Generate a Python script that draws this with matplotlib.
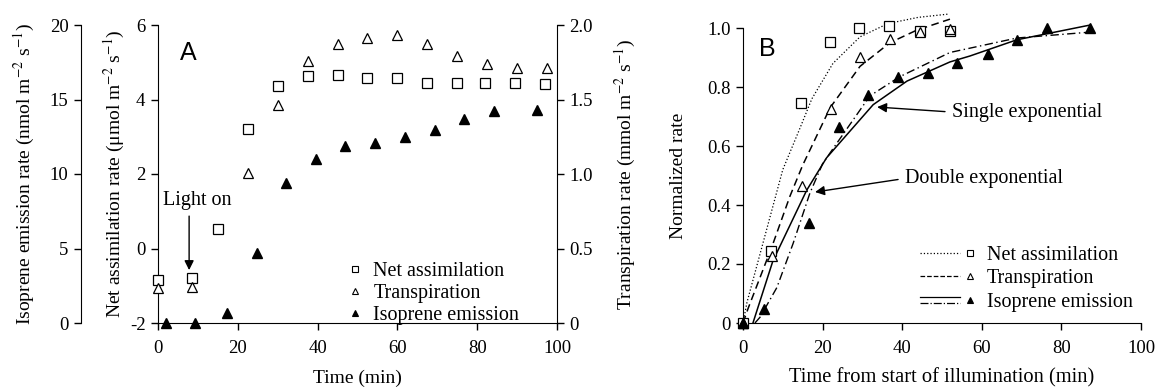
import matplotlib
matplotlib.use("Agg")
import matplotlib.pyplot as plt
from matplotlib.lines import Line2D
from matplotlib.legend_handler import HandlerBase

plt.rcParams["font.family"] = ["Liberation Serif", "DejaVu Serif"]
plt.rcParams["mathtext.fontset"] = "stix"
plt.rcParams["axes.unicode_minus"] = False
plt.rcParams["font.size"] = 13

# ---- panel A: raw time courses ----
net_time = [0, 8.5, 15, 22.5, 30, 37.5, 45, 52.5, 60, 67.5, 75, 82, 89.5, 97]
net_assim = [-0.85, -0.8, 0.52, 3.2, 4.35, 4.63, 4.65, 4.58, 4.57, 4.45, 4.45, 4.45, 4.45, 4.42]

trans_time = [0, 8.5, 22.5, 30, 37.5, 45, 52.5, 60, 67.5, 75, 82.5, 90, 97.5]
transp = [0.235, 0.24, 1.01, 1.46, 1.76, 1.87, 1.91, 1.93, 1.87, 1.79, 1.74, 1.71, 1.71]

iso_time = [2, 9.3, 17.3, 24.8, 32, 39.6, 46.9, 54.4, 61.9, 69.4, 76.7, 84.2, 95]
iso = [0, 0, 0.67, 4.7, 9.4, 11.0, 11.9, 12.1, 12.5, 12.95, 13.7, 14.2, 14.3]

# ---- panel B: normalized rates and fits ----
b_net_t = [0, 7.0, 14.6, 21.9, 29.1, 36.7, 44.5, 52]
b_net = [0, 0.244, 0.745, 0.952, 1.0, 1.007, 0.99, 0.99]
b_tr_t = [0, 7.3, 14.8, 22.1, 29.4, 36.9, 44.5, 52]
b_tr = [0, 0.227, 0.464, 0.725, 0.902, 0.963, 0.986, 0.997]
b_iso_t = [0, 5.3, 16.6, 24.1, 31.4, 38.9, 46.5, 53.8, 61.6, 68.8, 76.4, 87.2]
b_iso = [0, 0.047, 0.339, 0.665, 0.773, 0.834, 0.847, 0.881, 0.911, 0.959, 1.0, 1.0]

fit_net_t = [0, 1, 5, 10, 14.3, 17.3, 22.6, 29.4, 36.4, 44, 51.5]
fit_net = [0, 0.07, 0.27, 0.52, 0.66, 0.76, 0.88, 0.97, 1.015, 1.036, 1.047]
fit_tr_t = [0, 1.3, 7.3, 11.8, 15, 21.9, 29.4, 36.9, 43.7, 52]
fit_tr = [0, 0.05, 0.26, 0.43, 0.535, 0.73, 0.87, 0.95, 0.993, 1.03]
fit_single_t = [2.5, 7.5, 16, 21, 32.7, 41.2, 52, 57, 68.8, 87.2]
fit_single = [0, 0.21, 0.45, 0.56, 0.74, 0.82, 0.885, 0.905, 0.96, 1.01]
fit_double_t = [3, 4.3, 8.5, 12.6, 16.8, 20, 23.6, 31.9, 39.4, 52, 68.8, 87.2]
fit_double = [0, 0.02, 0.12, 0.27, 0.44, 0.54, 0.61, 0.77, 0.835, 0.917, 0.966, 0.986]

TXT = 14.5    # legend / annotation text
TICK = 13.5
LAB = 14


class Key:
    def __init__(self, styles, marker, filled):
        self.styles = styles
        self.marker = marker
        self.filled = filled


class KeyHandler(HandlerBase):
    def create_artists(self, legend, key, xdescent, ydescent, width, height, fontsize, trans):
        out = []
        y0 = height / 2 - ydescent
        offs = [0] if len(key.styles) == 1 else [height * 0.22, -height * 0.22]
        for ls, off in zip(key.styles, offs):
            ln = Line2D([-xdescent, -xdescent + width * 0.7], [y0 + off] * 2,
                        ls=ls, color="k", lw=0.9)
            ln.set_transform(trans)
            out.append(ln)
        mx = -xdescent + (width * 0.88 if key.styles else width / 2)
        mk = Line2D([mx], [y0], marker=key.marker, ms=5, ls="none", mec="k",
                    mew=0.8, mfc="k" if key.filled else "white")
        mk.set_transform(trans)
        out.append(mk)
        return out


def style_ticks(a):
    a.tick_params(direction="out", length=5, width=1, labelsize=TICK)
    a.tick_params(axis="x", pad=7)
    a.tick_params(axis="y", pad=4)


fig = plt.figure(figsize=(11.58, 3.88), dpi=100)

# ---------- panel A ----------
ax = fig.add_axes([158 / 1158, 65 / 388, 399 / 1158, 298 / 388])
ax_tr = ax.twinx()
ax_iso = ax.twinx()

ax.set_xlim(0, 100)
ax.set_ylim(-2, 6)
ax.set_yticks([-2, 0, 2, 4, 6])
ax.set_xticks([0, 20, 40, 60, 80, 100])
ax_tr.set_ylim(0, 2)
ax_tr.set_yticks([0, 0.5, 1.0, 1.5, 2.0])
ax_tr.set_yticklabels(["0", "0.5", "1.0", "1.5", "2.0"])
ax_iso.set_ylim(0, 20)
ax_iso.set_yticks([0, 5, 10, 15, 20])

for s in ["top", "right"]:
    ax.spines[s].set_visible(False)
for s in ["top", "left", "bottom"]:
    ax_tr.spines[s].set_visible(False)
for s in ["top", "right", "bottom"]:
    ax_iso.spines[s].set_visible(False)
ax_iso.spines["left"].set_visible(True)
ax_iso.spines["left"].set_position(("outward", 77 * 0.72))
ax_iso.yaxis.tick_left()
ax_iso.yaxis.set_label_position("left")

for a in (ax, ax_tr, ax_iso):
    style_ticks(a)

ax.plot(net_time, net_assim, ls="none", marker="s", ms=6.5, mfc="white",
        mec="k", mew=0.9, clip_on=False, zorder=5)
ax_tr.plot(trans_time, transp, ls="none", marker="^", ms=7, mfc="white",
           mec="k", mew=0.9, clip_on=False, zorder=5)
ax_iso.plot(iso_time, iso, ls="none", marker="^", ms=7.5, mfc="k",
            mec="k", clip_on=False, zorder=5)

ax.set_ylabel("Net assimilation rate (μmol m$^{-2}$ s$^{-1}$)", fontsize=LAB)
ax.yaxis.set_label_coords(-0.078, 0.5)
ax_iso.set_ylabel("Isoprene emission rate (nmol m$^{-2}$ s$^{-1}$)", fontsize=LAB)
ax_iso.yaxis.set_label_coords(-0.303, 0.5)
ax_tr.set_ylabel("Transpiration rate (mmol m$^{-2}$ s$^{-1}$)", fontsize=LAB)
ax_tr.yaxis.set_label_coords(1.14, 0.5)
ax.set_xlabel("Time (min)", fontsize=LAB)
ax.xaxis.set_label_coords(0.5, -0.155)

ax.text(0.075, 0.905, "A", transform=ax.transAxes, fontsize=18,
        family="Liberation Sans", ha="center", va="center")
ax.text(9.8, 1.3, "Light on", ha="center", va="center", fontsize=TXT)
ax.annotate("", xy=(7.8, -0.58), xytext=(7.8, 0.87),
            arrowprops=dict(arrowstyle="-|>", color="k", lw=1,
                            mutation_scale=14, shrinkA=0, shrinkB=0))

keys_a = [Key([], "s", False), Key([], "^", False), Key([], "^", True)]
ax.legend(keys_a, ["Net assimilation", "Transpiration", "Isoprene emission"],
          handler_map={Key: KeyHandler()}, loc="upper left",
          bbox_to_anchor=(0.474, 0.205), frameon=False, borderpad=0,
          borderaxespad=0, handlelength=0.75, handletextpad=0.55,
          labelspacing=0.15, fontsize=TXT)

# ---------- panel B ----------
bx = fig.add_axes([743 / 1158, 65 / 388, 398 / 1158, 295 / 388])
bx.set_xlim(0, 100)
bx.set_ylim(0, 1.0)
bx.set_xticks([0, 20, 40, 60, 80, 100])
bx.set_yticks([0, 0.2, 0.4, 0.6, 0.8, 1.0])
bx.set_yticklabels(["0", "0.2", "0.4", "0.6", "0.8", "1.0"])
for s in ["top", "right"]:
    bx.spines[s].set_visible(False)
style_ticks(bx)

bx.plot(fit_net_t, fit_net, ls=":", color="k", lw=0.9, clip_on=False)
bx.plot(fit_tr_t, fit_tr, ls=(0, (5, 3)), color="k", lw=1.1, clip_on=False)
bx.plot(fit_single_t, fit_single, ls="-", color="k", lw=1.1, clip_on=False)
bx.plot(fit_double_t, fit_double, ls=(0, (6, 2.5, 1, 2.5)), color="k", lw=1.0,
        clip_on=False)

bx.plot(b_net_t, b_net, ls="none", marker="s", ms=6.5, mfc="white", mec="k",
        mew=0.9, clip_on=False, zorder=5)
bx.plot(b_tr_t, b_tr, ls="none", marker="^", ms=7, mfc="white", mec="k",
        mew=0.9, clip_on=False, zorder=5)
bx.plot(b_iso_t, b_iso, ls="none", marker="^", ms=7.5, mfc="k", mec="k",
        clip_on=False, zorder=5)

bx.set_ylabel("Normalized rate", fontsize=LAB)
bx.yaxis.set_label_coords(-0.14, 0.5)
bx.set_xlabel("Time from start of illumination (min)", fontsize=14.8)
bx.xaxis.set_label_coords(0.5, -0.152)

bx.text(0.06, 0.93, "B", transform=bx.transAxes, fontsize=18,
        family="Liberation Sans", ha="center", va="center")
bx.annotate("Single exponential", xy=(33.7, 0.732), xytext=(52.5, 0.715),
            ha="left", va="center", fontsize=TXT,
            arrowprops=dict(arrowstyle="-|>", color="k", lw=1,
                            mutation_scale=14, shrinkA=3, shrinkB=0,
                            relpos=(0, 0.5)))
bx.annotate("Double exponential", xy=(18.1, 0.444), xytext=(40.7, 0.49),
            ha="left", va="center", fontsize=TXT,
            arrowprops=dict(arrowstyle="-|>", color="k", lw=1,
                            mutation_scale=14, shrinkA=3, shrinkB=0,
                            relpos=(0, 0.5)))

keys_b = [Key([":"], "s", False), Key(["--"], "^", False),
          Key(["-", "-."], "^", True)]
bx.legend(keys_b, ["Net assimilation", "Transpiration", "Isoprene emission"],
          handler_map={Key: KeyHandler()}, loc="upper left",
          bbox_to_anchor=(0.445, 0.262), frameon=False, borderpad=0,
          borderaxespad=0, handlelength=2.8, handletextpad=0.5,
          labelspacing=0.22, fontsize=TXT)

fig.savefig("out.png", dpi=100)
